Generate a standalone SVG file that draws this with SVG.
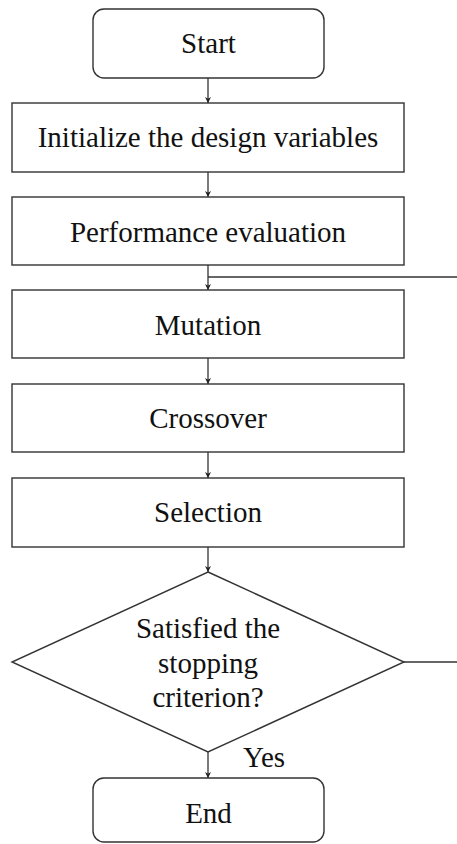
<svg xmlns="http://www.w3.org/2000/svg" width="457" height="844" viewBox="0 0 457 844">
<style>
.box{fill:#fff;stroke:#333;stroke-width:1.4}
.ln{fill:none;stroke:#333;stroke-width:1.3}
text{font-family:"Liberation Serif","Times New Roman",serif;font-size:29px;fill:#111;text-anchor:middle}
</style>
<defs>
<marker id="ah" viewBox="0 0 10 10" refX="10" refY="5" markerWidth="6" markerHeight="7" markerUnits="userSpaceOnUse" orient="auto">
<path d="M0,0 L10,5 L0,10 L3,5 Z" fill="#222"/>
</marker>
</defs>
<rect width="457" height="844" fill="#fff"/>
<g id="connectors">
<line class="ln" x1="208" y1="78" x2="208" y2="103" marker-end="url(#ah)"/>
<line class="ln" x1="208" y1="172" x2="208" y2="197" marker-end="url(#ah)"/>
<line class="ln" x1="208" y1="265" x2="208" y2="290" marker-end="url(#ah)"/>
<line class="ln" x1="208" y1="277" x2="457" y2="277"/>
<line class="ln" x1="208" y1="358" x2="208" y2="384" marker-end="url(#ah)"/>
<line class="ln" x1="208" y1="452" x2="208" y2="478" marker-end="url(#ah)"/>
<line class="ln" x1="208" y1="547" x2="208" y2="572" marker-end="url(#ah)"/>
<line class="ln" x1="404" y1="662" x2="457" y2="662"/>
<line class="ln" x1="208" y1="752" x2="208" y2="778" marker-end="url(#ah)"/>
<text x="264" y="767">Yes</text>
</g>
<g id="start"><rect class="box" x="93" y="9" width="231" height="69" rx="11"/><text x="208.5" y="53">Start</text></g>
<g id="init"><rect class="box" x="12" y="103" width="392" height="69"/><text x="208" y="147">Initialize the design variables</text></g>
<g id="perf"><rect class="box" x="12" y="197" width="392" height="68"/><text x="208" y="242">Performance evaluation</text></g>
<g id="mutation"><rect class="box" x="12" y="290" width="392" height="68"/><text x="208" y="335">Mutation</text></g>
<g id="crossover"><rect class="box" x="12" y="384" width="392" height="68"/><text x="208" y="428">Crossover</text></g>
<g id="selection"><rect class="box" x="12" y="478" width="392" height="69"/><text x="208" y="522">Selection</text></g>
<g id="decision"><polygon class="box" points="208,572 404,662 208,752 12,662"/>
<text x="208" y="638">Satisfied the</text><text x="208" y="672.5">stopping</text><text x="208" y="707">criterion?</text></g>
<g id="end"><rect class="box" x="93" y="778" width="231" height="64" rx="11"/><text x="208.5" y="823">End</text></g>
</svg>
